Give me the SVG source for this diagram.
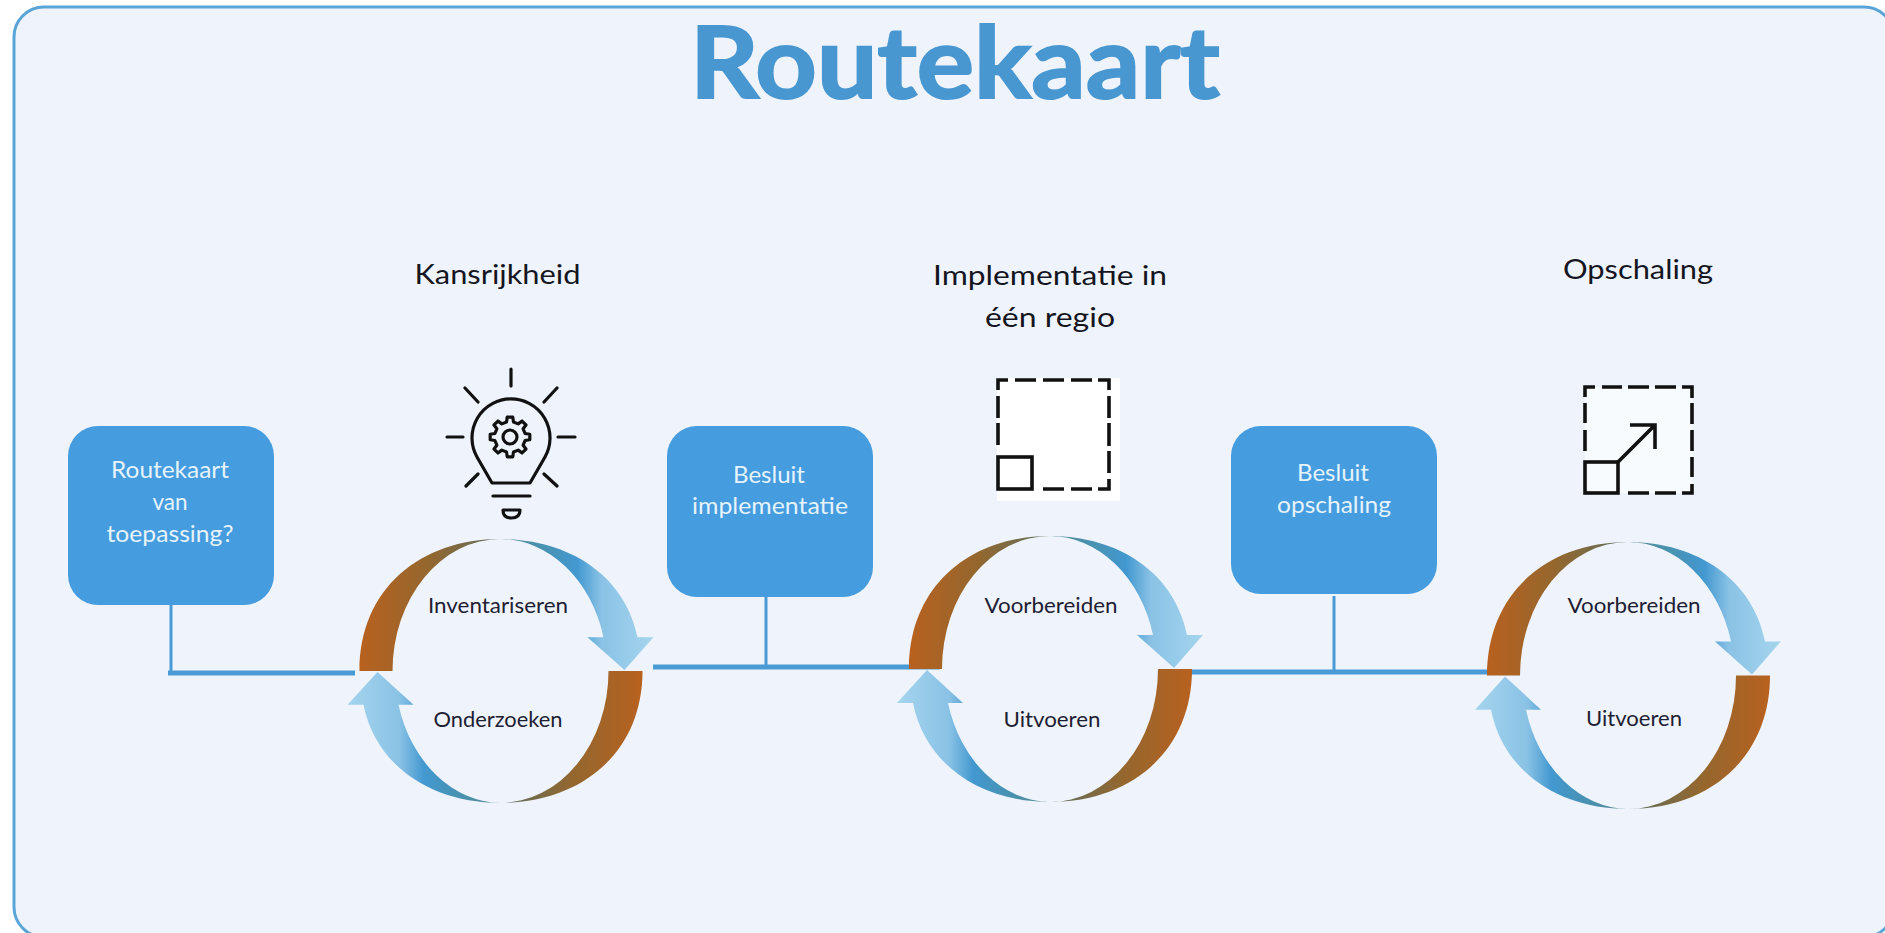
<svg xmlns="http://www.w3.org/2000/svg" width="1885" height="933" viewBox="0 0 1885 933">
<style>
text{font-family:"Lato","Carlito","Liberation Sans",sans-serif;text-anchor:middle}
.title{font-size:99px;font-weight:700;fill:#4897d1;stroke:#4897d1;stroke-width:2}
.head{font-size:26px;fill:#15151f}
.box{fill:#459cde}
.boxt{font-size:22.5px;fill:#e6f3fb}
.ring{font-size:21.5px;fill:#1e2033}
.line{stroke:#4a9ad6;fill:none}
.thin{stroke-width:3}
.thick{stroke-width:5}
.ic{fill:none;stroke:#111;stroke-width:3.2;stroke-linecap:round;stroke-linejoin:round}
.dash{fill:none;stroke:#111;stroke-width:3.6;stroke-linejoin:miter}
</style>
<defs>
<linearGradient id="brownL" x1="0" y1="0" x2="1" y2="0"><stop offset="0" stop-color="#b8611f"/><stop offset=".5" stop-color="#93672f"/><stop offset="1" stop-color="#5c6f60"/></linearGradient>
<linearGradient id="brownR" x1="1" y1="0" x2="0" y2="0"><stop offset="0" stop-color="#b8611f"/><stop offset=".5" stop-color="#93672f"/><stop offset="1" stop-color="#5c6f60"/></linearGradient>
<linearGradient id="blueR" x1="0" y1="0" x2="1" y2="0"><stop offset="0" stop-color="#5a8a8c"/><stop offset=".2" stop-color="#4b90a8"/><stop offset=".5" stop-color="#4298d0"/><stop offset=".66" stop-color="#8ac2e5"/><stop offset="1" stop-color="#a5d5ee"/></linearGradient>
<linearGradient id="blueL" x1="1" y1="0" x2="0" y2="0"><stop offset="0" stop-color="#5a8a8c"/><stop offset=".2" stop-color="#4b90a8"/><stop offset=".5" stop-color="#4298d0"/><stop offset=".66" stop-color="#8ac2e5"/><stop offset="1" stop-color="#a5d5ee"/></linearGradient>
<g id="cycle">
<path fill="url(#brownL)" d="M-141,133C-141,50 -80,0 0,0A108,133 0 0 0 -108,133Z"/>
<path fill="url(#blueR)" d="M0,0C70,0 125,38 137,99H153L124,132L87,99H103A107,133 0 0 0 0,0Z"/>
<path fill="url(#brownR)" d="M142,133C142,216 80,266 0,266A108,133 0 0 0 108,133Z"/>
<path fill="url(#blueL)" d="M0,266C-70,266 -125,228 -137,167H-153L-123,134L-87,167H-102A107,133 0 0 0 0,266Z"/>
</g>
</defs>
<rect width="1885" height="933" fill="#fff"/>
<rect id="frame" x="14" y="7" width="1880" height="930" rx="30" fill="#eff4fc" stroke="#5aa5d8" stroke-width="3"/>
<text class="title" x="955" y="98" textLength="530" lengthAdjust="spacingAndGlyphs">Routekaart</text>

<g id="connectors">
<path class="line thin" d="M171,605V673"/>
<path class="line thick" d="M168,673H355"/>
<path class="line thin" d="M766,597V667"/>
<path class="line thick" d="M653,667H940"/>
<path class="line thin" d="M1334,596V672"/>
<path class="line thick" d="M1190,672H1490"/>
</g>

<g id="node-start"><rect class="box" x="68" y="426" width="206" height="179" rx="30"/>
<text class="boxt" x="170" y="478" textLength="118" lengthAdjust="spacingAndGlyphs">Routekaart</text><text class="boxt" x="170" y="510">van</text><text class="boxt" x="170" y="542" textLength="127" lengthAdjust="spacingAndGlyphs">toepassing?</text></g>
<g id="node-besluit-implementatie"><rect class="box" x="667" y="426" width="206" height="171" rx="30"/>
<text class="boxt" x="769" y="483" textLength="72" lengthAdjust="spacingAndGlyphs">Besluit</text><text class="boxt" x="770" y="514" textLength="156" lengthAdjust="spacingAndGlyphs">implementatie</text></g>
<g id="node-besluit-opschaling"><rect class="box" x="1231" y="426" width="206" height="168" rx="30"/>
<text class="boxt" x="1333" y="481" textLength="72" lengthAdjust="spacingAndGlyphs">Besluit</text><text class="boxt" x="1334" y="513" textLength="114" lengthAdjust="spacingAndGlyphs">opschaling</text></g>

<g id="node-kansrijkheid">
<text class="head" x="497.500" y="284" textLength="166" lengthAdjust="spacingAndGlyphs">Kansrijkheid</text>
<g id="icon-bulb" class="ic">
<path d="M511,369V386M447,437H463M558,437H575M465,388L478,402M557,388L544,402M478,474L466,486M544,474L557,486"/>
<path d="M492,483L477,457A39,39 0 1 1 545,457L530,483Z"/>
<path d="M493,496H530"/>
<path d="M503,510H520Q520,518 511.500,518Q503,518 503,510Z"/>
<g transform="translate(510,437)"><polygon points="15.10,-3.49 19.81,-2.78 19.81,2.78 15.10,3.49 13.14,8.21 15.97,12.04 12.04,15.97 8.21,13.14 3.49,15.10 2.78,19.81 -2.78,19.81 -3.49,15.10 -8.21,13.14 -12.04,15.97 -15.97,12.04 -13.14,8.21 -15.10,3.49 -19.81,2.78 -19.81,-2.78 -15.10,-3.49 -13.14,-8.21 -15.97,-12.04 -12.04,-15.97 -8.21,-13.14 -3.49,-15.10 -2.78,-19.81 2.78,-19.81 3.49,-15.10 8.21,-13.14 12.04,-15.97 15.97,-12.04 13.14,-8.21"/><circle r="7"/></g>
</g>
<use href="#cycle" transform="translate(500.500,539) scale(1,0.992)"/>
<text class="ring" x="498" y="613" textLength="140" lengthAdjust="spacingAndGlyphs">Inventariseren</text>
<text class="ring" x="498" y="727" textLength="129" lengthAdjust="spacingAndGlyphs">Onderzoeken</text>
</g>

<g id="node-implementatie">
<text class="head" x="1050" y="285" textLength="234" lengthAdjust="spacingAndGlyphs">Implementatie in</text>
<text class="head" x="1050" y="327" textLength="130" lengthAdjust="spacingAndGlyphs">één regio</text>
<rect x="997" y="378" width="123" height="123" fill="#fff"/>
<path class="dash" d="M998,390V380H1008M1015,380H1036M1043,380H1064M1071,380H1092M1098,380H1109V390M1109,396V418M1109,423V446M1109,451V473M1109,479V489H1098M1092,489H1071M1064,489H1043M998,396V418M998,423V445"/>
<rect class="dash" x="998" y="457" width="34" height="32"/>
<use href="#cycle" transform="translate(1050,536)"/>
<text class="ring" x="1051" y="613" textLength="133" lengthAdjust="spacingAndGlyphs">Voorbereiden</text>
<text class="ring" x="1052" y="727" textLength="97" lengthAdjust="spacingAndGlyphs">Uitvoeren</text>
</g>

<g id="node-opschaling">
<text class="head" x="1638" y="279" textLength="150" lengthAdjust="spacingAndGlyphs">Opschaling</text>
<rect x="1585" y="387" width="107" height="106" fill="#f8fbfe"/>
<path class="dash" d="M1585,397V387H1595M1602,387H1622M1628,387H1649M1655,387H1676M1682,387H1692V398M1692,403V424M1692,430V451M1692,457V477M1692,484V493H1682M1676,493H1655M1649,493H1628M1585,403V423M1585,430V451"/>
<rect class="dash" x="1585" y="462" width="33" height="31"/>
<path class="dash" d="M1618,462L1655,425M1630,425H1655V449"/>
<use href="#cycle" transform="translate(1628,542) scale(1,1.004)"/>
<text class="ring" x="1634" y="613" textLength="133" lengthAdjust="spacingAndGlyphs">Voorbereiden</text>
<text class="ring" x="1634" y="726" textLength="96" lengthAdjust="spacingAndGlyphs">Uitvoeren</text>
</g>
</svg>
